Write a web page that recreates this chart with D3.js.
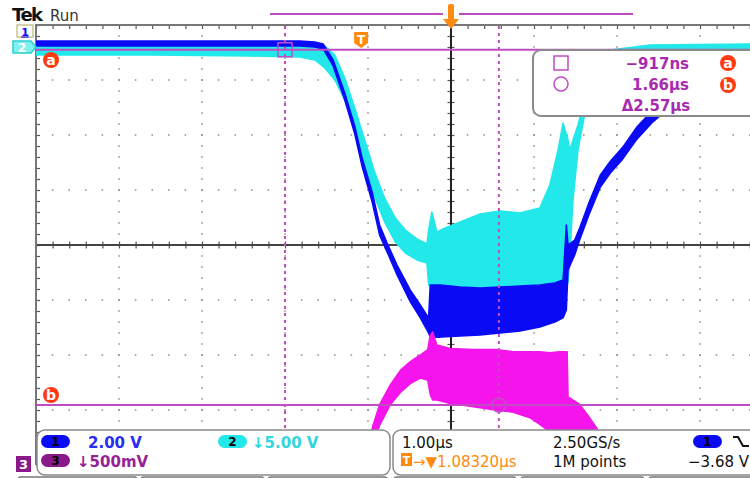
<!DOCTYPE html>
<html>
<head>
<meta charset="utf-8">
<script src="https://cdn.jsdelivr.net/npm/d3@7"></script>
<style>
  body { margin: 0; background: #fff; }
  svg { display: block; font-family: "DejaVu Sans", Verdana, sans-serif; }
</style>
</head>
<body>
<svg class="canvas"></svg>
<script>
// Window size
const wWidth = 750
const wHeight = 478

// Channel 1 (blue), 2.00 V/div, time in µs from screen centre
const ch1Time = [-5.0, -3.63, -2.42, -1.82, -1.64, -1.54, -1.42, -1.28, -1.16, -1.07, -0.95, -0.86, -0.77, -0.65, -0.49, -0.37, -0.27, -0.25, -0.13, 0.11, 0.35, 0.59, 0.83, 1.07, 1.25, 1.35, 1.39, 1.41, 1.49, 1.55, 1.67, 1.80, 1.92, 2.07, 2.24, 2.43, 2.64, 3.00, 3.36, 3.72, 4.20, 5.0];
const ch1Max = [-0.38, -0.38, -0.38, -0.38, -0.42, -0.49, -1.07, -2.27, -3.47, -4.64, -5.87, -7.07, -7.73, -8.53, -9.44, -9.98, -10.45, -9.25, -9.25, -9.33, -9.36, -9.33, -9.29, -9.25, -9.18, -9.07, -7.07, -7.80, -7.62, -7.18, -6.20, -5.25, -4.75, -4.24, -3.51, -2.89, -2.35, -1.51, -0.96, -0.64, -0.45, -0.38];
const ch1Min = [-0.56, -0.56, -0.56, -0.56, -0.60, -0.67, -1.29, -2.53, -3.76, -4.96, -6.24, -7.44, -8.05, -8.89, -9.87, -10.45, -11.00, -11.15, -11.15, -11.11, -11.07, -11.00, -10.93, -10.78, -10.60, -10.45, -10.16, -8.71, -8.16, -7.62, -6.64, -5.69, -5.18, -4.67, -3.95, -3.33, -2.78, -1.87, -1.25, -0.89, -0.65, -0.56];

// Channel 2 (cyan), 5.00 V/div
const ch2Time = [-5.0, -3.63, -2.42, -1.82, -1.64, -1.52, -1.40, -1.28, -1.16, -1.04, -0.92, -0.80, -0.67, -0.55, -0.41, -0.29, -0.27, -0.23, -0.17, -0.07, 0.11, 0.35, 0.59, 0.83, 1.07, 1.19, 1.29, 1.35, 1.41, 1.43, 1.47, 1.53, 1.61, 1.73, 1.92, 2.40, 3.60, 5.0];
const ch2Max = [0.61, 0.61, 0.61, 0.61, 0.52, 0.34, -0.48, -2.57, -5.30, -8.20, -11.11, -13.48, -15.30, -16.39, -17.20, -17.66, -16.39, -14.75, -16.57, -16.20, -15.66, -14.93, -14.66, -14.84, -14.39, -12.30, -9.11, -6.66, -8.20, -9.11, -8.20, -6.84, -4.57, -1.84, -0.02, 0.43, 0.52, 0.52];
const ch2Min = [-0.48, -0.48, -0.57, -0.66, -0.93, -1.66, -2.75, -4.57, -7.30, -10.48, -13.39, -15.66, -17.48, -18.48, -19.11, -19.39, -21.39, -21.66, -21.66, -21.66, -21.57, -21.57, -21.48, -21.39, -21.30, -21.20, -21.20, -21.20, -21.20, -19.11, -13.66, -9.11, -5.93, -3.20, -1.11, -0.57, -0.48, -0.48];

// Channel 3 (magenta), 500 mV/div
const ch3Time = [-1.16, -1.00, -0.94, -0.86, -0.73, -0.61, -0.49, -0.37, -0.28, -0.25, -0.22, -0.17, -0.01, 0.27, 0.53, 0.75, 0.95, 1.07, 1.19, 1.31, 1.40, 1.41, 1.55, 1.67, 1.77, 1.92];
const ch3Max = [-0.25, 0.16, 0.34, 0.53, 0.71, 0.84, 0.92, 0.98, 1.03, 1.16, 1.19, 1.07, 1.04, 1.03, 1.03, 1.01, 1.01, 1.01, 1.00, 1.01, 1.01, 0.60, 0.53, 0.41, 0.30, 0.12];
const ch3Min = [-0.38, -0.07, 0.16, 0.34, 0.53, 0.64, 0.72, 0.77, 0.75, 0.62, 0.57, 0.57, 0.54, 0.51, 0.48, 0.46, 0.41, 0.35, 0.28, 0.21, 0.21, 0.16, 0.12, 0.03, -0.07, -0.16];

// Settings and readouts
const chScale = [2.0, 5.0, 0.5];          // V/div
const chPosition = [3.9, 3.55, -3.96];    // divisions from centre
const triggerPos = -1.0832;               // µs
const cursorTimes = [-0.917, 1.66];       // µs from trigger
const cursorLevels = [3.55, -2.91];       // divisions
const readouts = ["\u2212917ns", "1.66\u00b5s", "\u03942.57\u00b5s"];
const chLabels = ["2.00 V", "\u21935.00 V", "\u2193500mV"];
const timeLabels = ["1.00\u00b5s", "2.50GS/s", "1M points", "\u22123.68 V", "\u2192\u25bc1.08320\u00b5s"];

const colors = {blue: "#0a0af5", cyan: "#22e8ea", magenta: "#f514ec", cursor: "#c04cc4", orange: "#ff8a10", grid: "#8a8a8a"};

const svg = d3.select(".canvas")
    .attr("width", wWidth)
    .attr("height", wHeight);

// Scales: time (µs) and screen divisions
const xScale = d3.scaleLinear().domain([-5, 5]).range([36, 866]);
const yScale = d3.scaleLinear().domain([-4, 4]).range([465, 25]);

svg.append("defs").append("clipPath").attr("id", "grat")
  .append("rect").attr("x", 36).attr("y", 25).attr("width", 830).attr("height", 440);

// Graticule dots
const grid = svg.append("g");
const xMinor = d3.range(-25, 26).map(d => d / 5);
const yMinor = d3.range(-20, 21).map(d => d / 5);
[-4, -3, -2, -1, 1, 2, 3, 4].forEach(i => {
    grid.selectAll(null).data(yMinor).enter().append("rect")
        .attr("x", xScale(i) - 0.75).attr("y", d => yScale(d) - 0.75)
        .attr("width", 1.5).attr("height", 1.5).attr("fill", colors.grid);
});
[-3, -2, -1, 1, 2, 3].forEach(j => {
    grid.selectAll(null).data(xMinor).enter().append("rect")
        .attr("x", d => xScale(d) - 0.75).attr("y", yScale(j) - 0.75)
        .attr("width", 1.5).attr("height", 1.5).attr("fill", colors.grid);
});

// Centre cross and borders with ticks
const axisStyle = g => {
    g.select(".domain").remove();
    g.selectAll("line").attr("stroke", "#555").attr("stroke-width", 1.2);
};
svg.append("g").attr("transform", `translate(0,${yScale(0) - 3.5})`)
    .call(d3.axisBottom(xScale).tickValues(xMinor).tickSize(7).tickFormat("")).call(axisStyle);
svg.append("g").attr("transform", `translate(${xScale(0) + 3.5},0)`)
    .call(d3.axisLeft(yScale).tickValues(yMinor).tickSize(7).tickFormat("")).call(axisStyle);
svg.append("g").attr("transform", `translate(36,0)`)
    .call(d3.axisRight(yScale).tickValues(yMinor).tickSize(4).tickFormat("")).call(axisStyle);
svg.append("g").attr("transform", `translate(0,25)`)
    .call(d3.axisBottom(xScale).tickValues(xMinor).tickSize(4).tickFormat("")).call(axisStyle);
svg.append("line").attr("x1", 36).attr("x2", 866).attr("y1", yScale(0)).attr("y2", yScale(0))
    .attr("stroke", "#444").attr("stroke-width", 2);
svg.append("line").attr("x1", xScale(0)).attr("x2", xScale(0)).attr("y1", 25).attr("y2", 465)
    .attr("stroke", "#222").attr("stroke-width", 2);
svg.append("line").attr("x1", 36).attr("x2", 36).attr("y1", 24).attr("y2", 465)
    .attr("stroke", "#777").attr("stroke-width", 2);
svg.append("line").attr("x1", 36).attr("x2", 866).attr("y1", 25).attr("y2", 25)
    .attr("stroke", "#777").attr("stroke-width", 2);

// Waveforms
const traces = svg.append("g").attr("clip-path", "url(#grat)");
const drawTrace = (time, max, min, ch, color) => {
    const pts = time.map((t, i) => ({t: t, hi: max[i], lo: min[i]}));
    const toDiv = v => yScale(v / chScale[ch] + chPosition[ch]);
    const area = d3.area()
        .x(d => xScale(d.t))
        .y0(d => toDiv(d.lo))
        .y1(d => toDiv(d.hi));
    traces.append("path").datum(pts)
        .attr("d", area)
        .attr("fill", color)
        .attr("stroke", color)
        .attr("stroke-width", 1.5)
        .attr("stroke-linejoin", "round");
};
drawTrace(ch2Time, ch2Max, ch2Min, 1, colors.cyan);
drawTrace(ch1Time, ch1Max, ch1Min, 0, colors.blue);
drawTrace(ch3Time, ch3Max, ch3Min, 2, colors.magenta);

// Cursors
const cx = cursorTimes.map(c => xScale(triggerPos + c));
cx.forEach(x => {
    svg.append("line").attr("x1", x).attr("x2", x).attr("y1", 26).attr("y2", 430)
        .attr("stroke", colors.cursor).attr("stroke-width", 2).attr("stroke-dasharray", "3,4");
});
cursorLevels.forEach(l => {
    svg.append("line").attr("x1", 36).attr("x2", 866).attr("y1", yScale(l)).attr("y2", yScale(l))
        .attr("stroke", colors.cursor).attr("stroke-width", 2);
});
svg.append("rect").attr("x", cx[0] - 7).attr("y", yScale(cursorLevels[0]) - 7)
    .attr("width", 14).attr("height", 14).attr("fill", "none")
    .attr("stroke", colors.cursor).attr("stroke-width", 1.5);
svg.append("circle").attr("cx", cx[1]).attr("cy", yScale(cursorLevels[1]))
    .attr("r", 7).attr("fill", "none").attr("stroke", colors.cursor).attr("stroke-width", 1.5);

// Red cursor badges
const badge = (x, y, t) => {
    svg.append("circle").attr("cx", x).attr("cy", y).attr("r", 8).attr("fill", "#ff3a10");
    svg.append("text").attr("x", x).attr("y", y + 5).attr("text-anchor", "middle")
        .attr("fill", "#fff").attr("font-size", 14).attr("font-weight", "bold").text(t);
};
badge(51, 60, "a");
badge(51, 395, "b");

// Top: Tek Run, record bar, trigger markers
svg.append("text").attr("x", 12).attr("y", 21).attr("font-size", 18).attr("font-weight", "bold")
    .attr("letter-spacing", -1.5).attr("fill", "#111").text("Tek");
svg.append("text").attr("x", 50).attr("y", 21).attr("font-size", 15).attr("fill", "#333").text("Run");
const tc = xScale(0);
svg.append("line").attr("x1", 270).attr("x2", tc - 8).attr("y1", 14).attr("y2", 14)
    .attr("stroke", colors.cursor).attr("stroke-width", 2);
svg.append("line").attr("x1", tc + 8).attr("x2", 633).attr("y1", 14).attr("y2", 14)
    .attr("stroke", colors.cursor).attr("stroke-width", 2);
svg.append("rect").attr("x", tc - 3).attr("y", 4).attr("width", 6).attr("height", 16).attr("rx", 2)
    .attr("fill", colors.orange);
svg.append("path").attr("d", `M${tc - 8},19 L${tc + 8},19 L${tc},29 Z`).attr("fill", colors.orange);
const tx = xScale(triggerPos);
svg.append("path").attr("d", `M${tx - 7},32 h14 v11 l-7,5 l-7,-5 Z`).attr("fill", colors.orange);
svg.append("text").attr("x", tx).attr("y", 44).attr("text-anchor", "middle").attr("fill", "#fff")
    .attr("font-size", 12).attr("font-weight", "bold").text("T");

// Channel ground markers
svg.append("rect").attr("x", 17).attr("y", 25).attr("width", 16).attr("height", 12)
    .attr("fill", "#fff").attr("stroke", "#c8c48c").attr("stroke-width", 1.5);
svg.append("text").attr("x", 25).attr("y", 35.5).attr("text-anchor", "middle").attr("fill", colors.blue)
    .attr("font-size", 11).attr("font-weight", "bold").attr("text-decoration", "underline").text("1");
svg.append("path").attr("d", "M13,41 h18 l5,6 l-5,6 h-18 Z").attr("fill", "#7ff0f0")
    .attr("stroke", "#2ccfd0").attr("stroke-width", 1.5);
svg.append("text").attr("x", 22).attr("y", 52).attr("text-anchor", "middle").attr("fill", "#fff")
    .attr("font-size", 13).attr("font-weight", "bold").text("2");
svg.append("rect").attr("x", 16).attr("y", 456).attr("width", 15).attr("height", 16).attr("fill", "#8a1a8a");
svg.append("text").attr("x", 23.5).attr("y", 469).attr("text-anchor", "middle").attr("fill", "#fff")
    .attr("font-size", 13).attr("font-weight", "bold").text("3");

// Cursor readout box
svg.append("rect").attr("x", 533).attr("y", 50).attr("width", 240).attr("height", 66).attr("rx", 8)
    .attr("fill", "#fff").attr("stroke", "#8a8a8a").attr("stroke-width", 2);
svg.append("rect").attr("x", 554).attr("y", 56).attr("width", 14).attr("height", 14)
    .attr("fill", "none").attr("stroke", colors.cursor).attr("stroke-width", 1.5);
svg.append("circle").attr("cx", 561).attr("cy", 84).attr("r", 7)
    .attr("fill", "none").attr("stroke", colors.cursor).attr("stroke-width", 1.5);
[[689, 69], [689, 90]].forEach((p, i) => {
    svg.append("text").attr("x", p[0]).attr("y", p[1]).attr("text-anchor", "end")
        .attr("fill", "#a82ab0").attr("font-size", 15).attr("font-weight", "bold").text(readouts[i]);
});
svg.append("text").attr("x", 656).attr("y", 111).attr("text-anchor", "middle")
    .attr("fill", "#a82ab0").attr("font-size", 15).attr("font-weight", "bold").text(readouts[2]);
badge(728, 63, "a");
badge(728, 85, "b");

// Bottom status panels
const panel = (x, w) => svg.append("rect").attr("x", x).attr("y", 430).attr("width", w).attr("height", 45)
    .attr("rx", 8).attr("fill", "#fff").attr("stroke", "#8a8a8a").attr("stroke-width", 1.5);
panel(37, 353);
panel(393, 380);
[[17, 121], [140, 125], [267, 121], [393, 124], [520, 125], [648, 120]].forEach(b => {
    svg.append("rect").attr("x", b[0]).attr("y", 477).attr("width", b[1]).attr("height", 12).attr("rx", 4)
        .attr("fill", "#fff").attr("stroke", "#777").attr("stroke-width", 1.5);
});
const pill = (x, y, fill, t) => {
    svg.append("rect").attr("x", x).attr("y", y).attr("width", 29).attr("height", 13).attr("rx", 6.5).attr("fill", fill);
    svg.append("text").attr("x", x + 14.5).attr("y", y + 11).attr("text-anchor", "middle")
        .attr("fill", "#000").attr("font-size", 12).attr("font-weight", "bold").text(t);
};
pill(41, 435, colors.blue, "1");
pill(218, 435, colors.cyan, "2");
pill(41, 454, "#8a1a8a", "3");
pill(693, 435, colors.blue, "1");
const label = (x, y, fill, t, bold) => svg.append("text").attr("x", x).attr("y", y).attr("fill", fill)
    .attr("font-size", 15).attr("font-weight", bold ? "bold" : "normal").text(t);
label(88, 448, "#2a2af0", chLabels[0], true);
label(252, 448, "#30d6de", chLabels[1], true);
label(77, 467, "#9a209a", chLabels[2], true);
label(402, 448, "#111", timeLabels[0]);
label(553, 448, "#111", timeLabels[1]);
label(553, 467, "#111", timeLabels[2]);
label(688, 467, "#111", timeLabels[3]);
svg.append("rect").attr("x", 401).attr("y", 453).attr("width", 11).attr("height", 13).attr("fill", colors.orange);
svg.append("text").attr("x", 406.5).attr("y", 464).attr("text-anchor", "middle").attr("fill", "#fff")
    .attr("font-size", 11).attr("font-weight", "bold").text("T");
svg.append("text").attr("x", 413).attr("y", 467).attr("fill", colors.orange).attr("font-size", 15)
    .text(timeLabels[4]);
svg.append("path").attr("d", "M733,437 h5 l5,9 h6").attr("fill", "none").attr("stroke", "#111").attr("stroke-width", 2);
</script>
</body>
</html>
